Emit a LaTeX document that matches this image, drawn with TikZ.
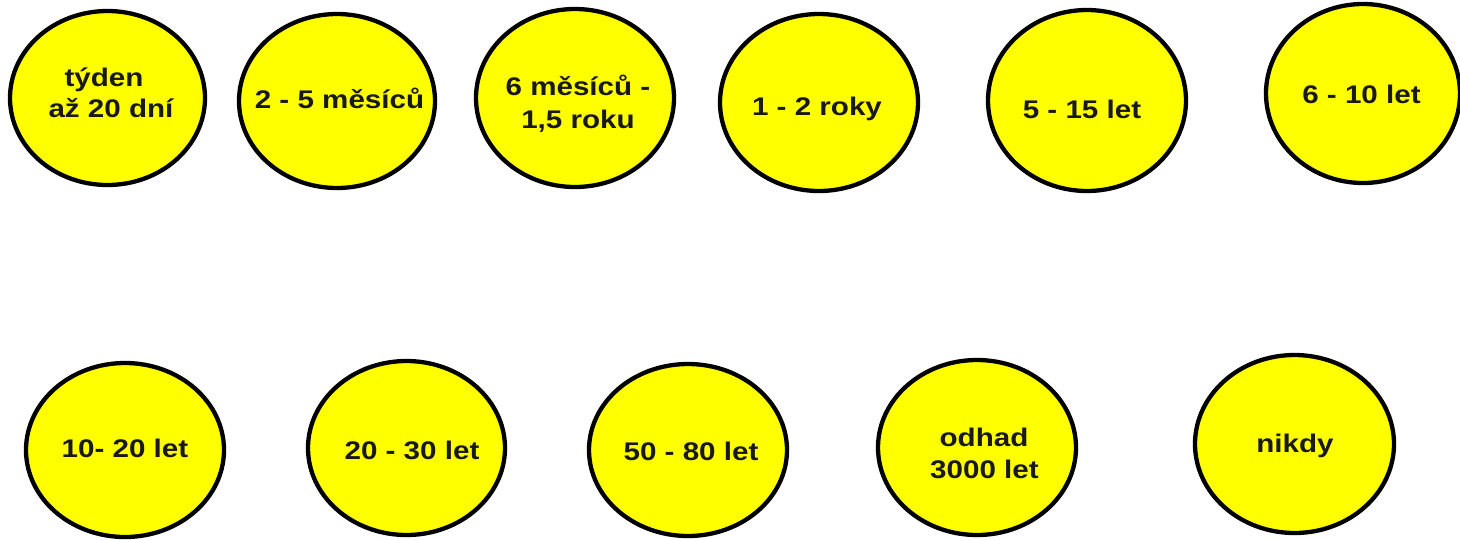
\documentclass[tikz,border=0pt]{standalone}
\usepackage{fontspec}
\setmainfont{Liberation Sans}[FakeStretch=1.16]
\usetikzlibrary{shapes.geometric}
\definecolor{blobyellow}{RGB}{255,255,0}
\begin{document}
\begin{tikzpicture}[x=1pt,y=-1pt,
  blob/.style={ellipse, draw=black, line width=4.3pt, fill=blobyellow, inner sep=0pt},
  lbl/.style={anchor=base, inner sep=0pt, text=black!90, font=\fontsize{25.5}{31}\selectfont\bfseries}]
\useasboundingbox (0,0) rectangle (1460,539);
% top row
\node[blob, minimum width=195pt, minimum height=174pt] (e1) at (107.5,98) {};
\node[blob, minimum width=196pt, minimum height=174pt] (e2) at (337,101) {};
\node[blob, minimum width=198pt, minimum height=178pt] (e3) at (575,98) {};
\node[blob, minimum width=198pt, minimum height=177pt] (e4) at (819,102.5) {};
\node[blob, minimum width=198pt, minimum height=181pt] (e5) at (1087,100.5) {};
\node[blob, minimum width=194pt, minimum height=179pt] (e6) at (1363,93.5) {};
% bottom row
\node[blob, minimum width=198pt, minimum height=174pt] (e7) at (125,450) {};
\node[blob, minimum width=197pt, minimum height=174pt] (e8) at (406.5,448) {};
\node[blob, minimum width=198pt, minimum height=172pt] (e9) at (688,450) {};
\node[blob, minimum width=198pt, minimum height=175pt] (e10) at (977,447.5) {};
\node[blob, minimum width=199pt, minimum height=178pt] (e11) at (1294.5,444) {};
% labels
\node[lbl] (t1a) at (104,86) {týden};
\node[lbl] (t1b) at (111,117) {až 20 dní};
\node[lbl] (t2) at (339.5,108) {2 - 5 měsíců};
\node[lbl] (t3a) at (578,95) {6 měsíců -};
\node[lbl] (t3b) at (578,128) {1,5 roku};
\node[lbl] (t4) at (817,115) {1 - 2 roky};
\node[lbl] (t5) at (1082,118) {5 - 15 let};
\node[lbl] (t6) at (1361.5,103) {6 - 10 let};
\node[lbl] (t7) at (125,457) {10- 20 let};
\node[lbl] (t8) at (412,459) {20 - 30 let};
\node[lbl] (t9) at (691,460) {50 - 80 let};
\node[lbl] (t10a) at (984,446) {odhad};
\node[lbl] (t10b) at (984.5,478) {3000 let};
\node[lbl] (t11) at (1295,452) {nikdy};
\end{tikzpicture}
\end{document}
